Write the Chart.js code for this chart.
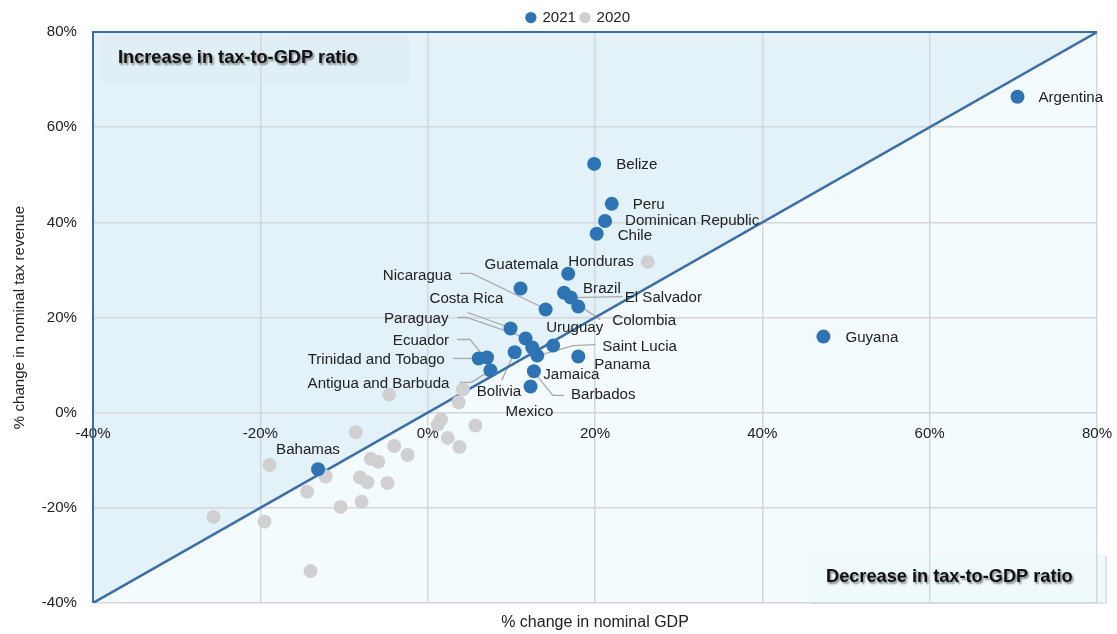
<!DOCTYPE html>
<html><head><meta charset="utf-8">
<script src="https://cdn.jsdelivr.net/npm/chart.js@4/dist/chart.umd.min.js"></script>
<style>html,body{margin:0;padding:0;background:#fff;}</style>
</head><body>
<canvas id="c" width="1117" height="634"></canvas>
<script>
// ---------- data ----------
const countries2021 = ['Argentina','Belize','Peru','Dominican Republic','Chile','Guyana','Bahamas','Honduras','Guatemala','Brazil','El Salvador','Colombia','Nicaragua','Costa Rica','Paraguay','Uruguay','Saint Lucia','Panama','Ecuador','Trinidad and Tobago','Antigua and Barbuda','Bolivia','Jamaica','Barbados','Mexico'];
const gdp2021 = [70.5,19.9,22.0,21.2,20.2,47.3,-13.1,16.8,11.1,16.3,17.1,18.0,14.1,9.9,11.7,15.0,13.1,18.0,7.1,6.1,7.5,10.4,12.5,12.7,12.3];
const tax2021 = [66.4,52.3,43.9,40.3,37.6,16.0,-11.9,29.2,26.1,25.2,24.2,22.3,21.7,17.7,15.6,14.1,12.0,11.8,11.6,11.4,8.9,12.7,13.7,8.7,5.5];
const gdp2020 = [26.3,-4.6,4.2,3.7,1.2,1.6,5.7,2.4,3.8,-8.6,-18.9,-12.2,-14.4,-6.8,-5.9,-4.0,-2.4,-8.1,-7.2,-4.8,-10.4,-7.9,-25.6,-19.5,-14.0];
const tax2020 = [31.7,3.8,4.9,2.2,-2.5,-1.4,-2.7,-5.3,-7.2,-4.1,-11.0,-13.4,-16.6,-9.7,-10.3,-7.0,-8.9,-13.6,-14.6,-14.8,-19.8,-18.7,-21.9,-22.9,-33.3];
const seriesNames = ['2021','2020'];
const xTicks = [-40,-20,0,20,40,60,80];
const yTicks = [-40,-20,0,20,40,60,80];
const xTitle = '% change in nominal GDP';
const yTitle = '% change in nominal tax revenue';
const upperText = 'Increase in tax-to-GDP ratio';
const lowerText = 'Decrease in tax-to-GDP ratio';

// ---------- label placement (pixel offsets from the point) ----------
const placement = {
  'Argentina':{dx:21,dy:1}, 'Belize':{dx:22,dy:1}, 'Peru':{dx:21,dy:1},
  'Dominican Republic':{dx:20,dy:0}, 'Chile':{dx:21,dy:2}, 'Guyana':{dx:22,dy:1},
  'Bahamas':{dx:-42,dy:-19}, 'Honduras':{dx:0,dy:-12}, 'Guatemala':{dx:-36,dy:-24},
  'Brazil':{dx:19,dy:-4},
  'El Salvador':{dx:54,dy:0,leader:[[2,0],[52,-1]]},
  'Colombia':{dx:34,dy:14,leader:[[4,1],[22,13]]},
  'Nicaragua':{dx:-94,dy:-34,align:'right',leader:[[-86,-36],[-74,-36],[-1,-1]]},
  'Costa Rica':{dx:-81,dy:-30,leader:[[-43,-16],[-1,-1]]},
  'Paraguay':{dx:-77,dy:-20,align:'right',leader:[[-68,-21],[-59,-21],[-1,-1]]},
  'Uruguay':{dx:-7,dy:-18},
  'Saint Lucia':{dx:65,dy:-9,leader:[[1,0],[36,-10],[58,-11]]},
  'Panama':{dx:16,dy:8},
  'Ecuador':{dx:-38,dy:-17,align:'right',leader:[[-30,-18],[-17,-18],[-4,-2]]},
  'Trinidad and Tobago':{dx:-34,dy:1,align:'right',leader:[[-26,0],[-5,0]]},
  'Antigua and Barbuda':{dx:-41,dy:13,align:'right',leader:[[-31,12],[-19,12],[-3,2]]},
  'Bolivia':{dx:-38,dy:40,leader:[[-2,4],[-13,28]]},
  'Jamaica':{dx:11,dy:27},
  'Barbados':{dx:37,dy:24,leader:[[1,2],[19,24],[30,24]]},
  'Mexico':{dx:-25,dy:25}
};

// ---------- fonts ----------
function hasFont(f){
  const c=document.createElement('canvas').getContext('2d');
  c.font='40px monospace'; const a=c.measureText('Argentina Wwmil 20%').width;
  c.font='40px "'+f+'", monospace'; return c.measureText('Argentina Wwmil 20%').width!==a;
}
const NARROW = hasFont('Liberation Sans Narrow');
const FAM = NARROW ? '"Liberation Sans Narrow", "Liberation Sans", sans-serif' : '"Liberation Sans", Arial, sans-serif';
const S = NARROW ? 1 : 0.84;
const fs = v => Math.round(v*S*10)/10;

const BLUE = '#2e74b5', GREY = '#d0d0d3', LINE = '#3b6ea6';
const UPPER = '#e3f1f8', LOWER = '#f3fbfe', GRID = '#d3d7db';

Chart.defaults.font.family = FAM;
Chart.defaults.color = '#222';

const bgPlugin = {
  id:'bg',
  afterLayout(chart){
    const lg = chart.legend;
    if (lg) { lg.left += 30; lg.right += 30; lg.top += 3; lg.bottom += 3; }
  },
  beforeDraw(chart){
    const {ctx, chartArea:a, scales:{x,y}} = chart;
    const X=v=>x.getPixelForValue(v), Y=v=>y.getPixelForValue(v);
    ctx.save();
    ctx.fillStyle = LOWER; ctx.fillRect(a.left,a.top,a.width,a.height);
    ctx.beginPath(); ctx.moveTo(X(-40),Y(-40)); ctx.lineTo(X(-40),Y(80)); ctx.lineTo(X(80),Y(80)); ctx.closePath();
    ctx.fillStyle = UPPER; ctx.fill();
    // label boxes
    ctx.fillStyle = '#e0eff6';
    ctx.fillRect(a.left+7, a.top+3, 310, 50);
    ctx.fillStyle = '#dde3e6';
    ctx.fillRect(a.right-287, a.bottom-47, 297, 48);
    ctx.fillStyle = '#f0fafd';
    ctx.fillRect(a.right-289, a.bottom-49, 297, 48);
    ctx.restore();
  },
  beforeDatasetsDraw(chart){
    const {ctx, chartArea:a, scales:{x,y}} = chart;
    const X=v=>x.getPixelForValue(v), Y=v=>y.getPixelForValue(v);
    ctx.save();
    ctx.strokeStyle = LINE; ctx.lineWidth = 2;
    ctx.beginPath(); ctx.moveTo(X(-40),Y(-40)); ctx.lineTo(X(-40),Y(80)); ctx.lineTo(X(80),Y(80)); ctx.stroke();
    // leader lines
    const meta = chart.getDatasetMeta(0);
    ctx.strokeStyle = '#a9a9a9'; ctx.lineWidth = 1.3;
    meta.data.forEach((pt,i)=>{
      const p = placement[countries2021[i]];
      if(!p || !p.leader) return;
      ctx.beginPath();
      p.leader.forEach((o,k)=>{ const px=pt.x+o[0], py=pt.y+o[1]; if(k===0) ctx.moveTo(px,py); else ctx.lineTo(px,py); });
      ctx.stroke();
    });
    ctx.restore();
  },
  afterDatasetsDraw(chart){
    const {ctx, chartArea:a} = chart;
    ctx.save();
    ctx.font = fs(18)+'px '+FAM; ctx.fillStyle = '#222'; ctx.textBaseline = 'middle';
    const meta = chart.getDatasetMeta(0);
    meta.data.forEach((pt,i)=>{
      const name = countries2021[i]; const p = placement[name]; if(!p) return;
      ctx.textAlign = p.align || 'left';
      ctx.fillText(name, pt.x+p.dx, pt.y+p.dy);
    });
    // region captions
    ctx.font = 'bold '+(NARROW?21:18.2)+'px '+FAM; ctx.textAlign='left';
    ctx.shadowColor = 'rgba(0,0,0,0.45)'; ctx.shadowOffsetX = 1.5; ctx.shadowOffsetY = 1.5; ctx.shadowBlur = 2;
    ctx.fillStyle = '#111';
    ctx.fillText(upperText, a.left+25, a.top+26);
    ctx.fillText(lowerText, a.right-271, a.bottom-26);
    ctx.restore();
  }
};

const tickFont = {size:fs(18)};
new Chart(document.getElementById('c'), {
  type:'scatter',
  data:{datasets:[
    {label:seriesNames[0], data:countries2021.map((n,i)=>({x:gdp2021[i], y:tax2021[i]})), backgroundColor:BLUE, borderColor:BLUE, borderWidth:0, pointRadius:7, pointHoverRadius:7, pointStyle:'circle', order:1},
    {label:seriesNames[1], data:gdp2020.map((v,i)=>({x:v, y:tax2020[i]})), backgroundColor:GREY, borderColor:GREY, borderWidth:0, pointRadius:7, pointHoverRadius:7, pointStyle:'circle', order:2},
    {type:'line', label:'diag', data:[{x:-40,y:-40},{x:80,y:80}], borderColor:LINE, borderWidth:2.5, pointRadius:0, fill:false, order:3}
  ]},
  options:{
    responsive:false, animation:false, events:[],
    layout:{padding:{left:0,right:20,top:2,bottom:0}},
    plugins:{
      tooltip:{enabled:false},
      legend:{position:'top', labels:{usePointStyle:true, pointStyle:'circle', boxWidth:8, boxHeight:8, padding:5, font:{size:fs(18)}, color:'#222', filter:it=>it.text!=='diag'}}
    },
    scales:{
      x:{type:'linear', position:{y:0}, min:-40, max:80,
        afterBuildTicks:s=>{s.ticks = xTicks.map(v=>({value:v}));},
        ticks:{callback:v=>v+'%', padding:12, font:tickFont, color:'#222', maxRotation:0},
        grid:{color:GRID, lineWidth:1.5, drawTicks:false}, border:{display:false},
        afterFit:s=>{s.height=0; s.paddingLeft=0; s.paddingRight=0;}},
      x2:{type:'linear', position:'bottom', min:-40, max:80,
        grid:{display:false}, ticks:{display:false}, border:{display:false},
        title:{display:true, text:xTitle, font:{size:fs(19)}, color:'#222', padding:{top:0,bottom:2}},
        afterFit:s=>{s.height=31; s.paddingLeft=0; s.paddingRight=0;}},
      y:{type:'linear', position:'left', min:-40, max:80,
        afterBuildTicks:s=>{s.ticks = yTicks.map(v=>({value:v}));},
        ticks:{callback:v=>v+'%', padding:16, font:tickFont, color:'#222'},
        grid:{color:GRID, lineWidth:1.5, drawTicks:false}, border:{display:false},
        title:{display:true, text:yTitle, font:{size:fs(18)}, color:'#222', padding:{top:11,bottom:0}},
        afterFit:s=>{s.width=93;}}
    }
  },
  plugins:[bgPlugin]
});
</script>
</body></html>
